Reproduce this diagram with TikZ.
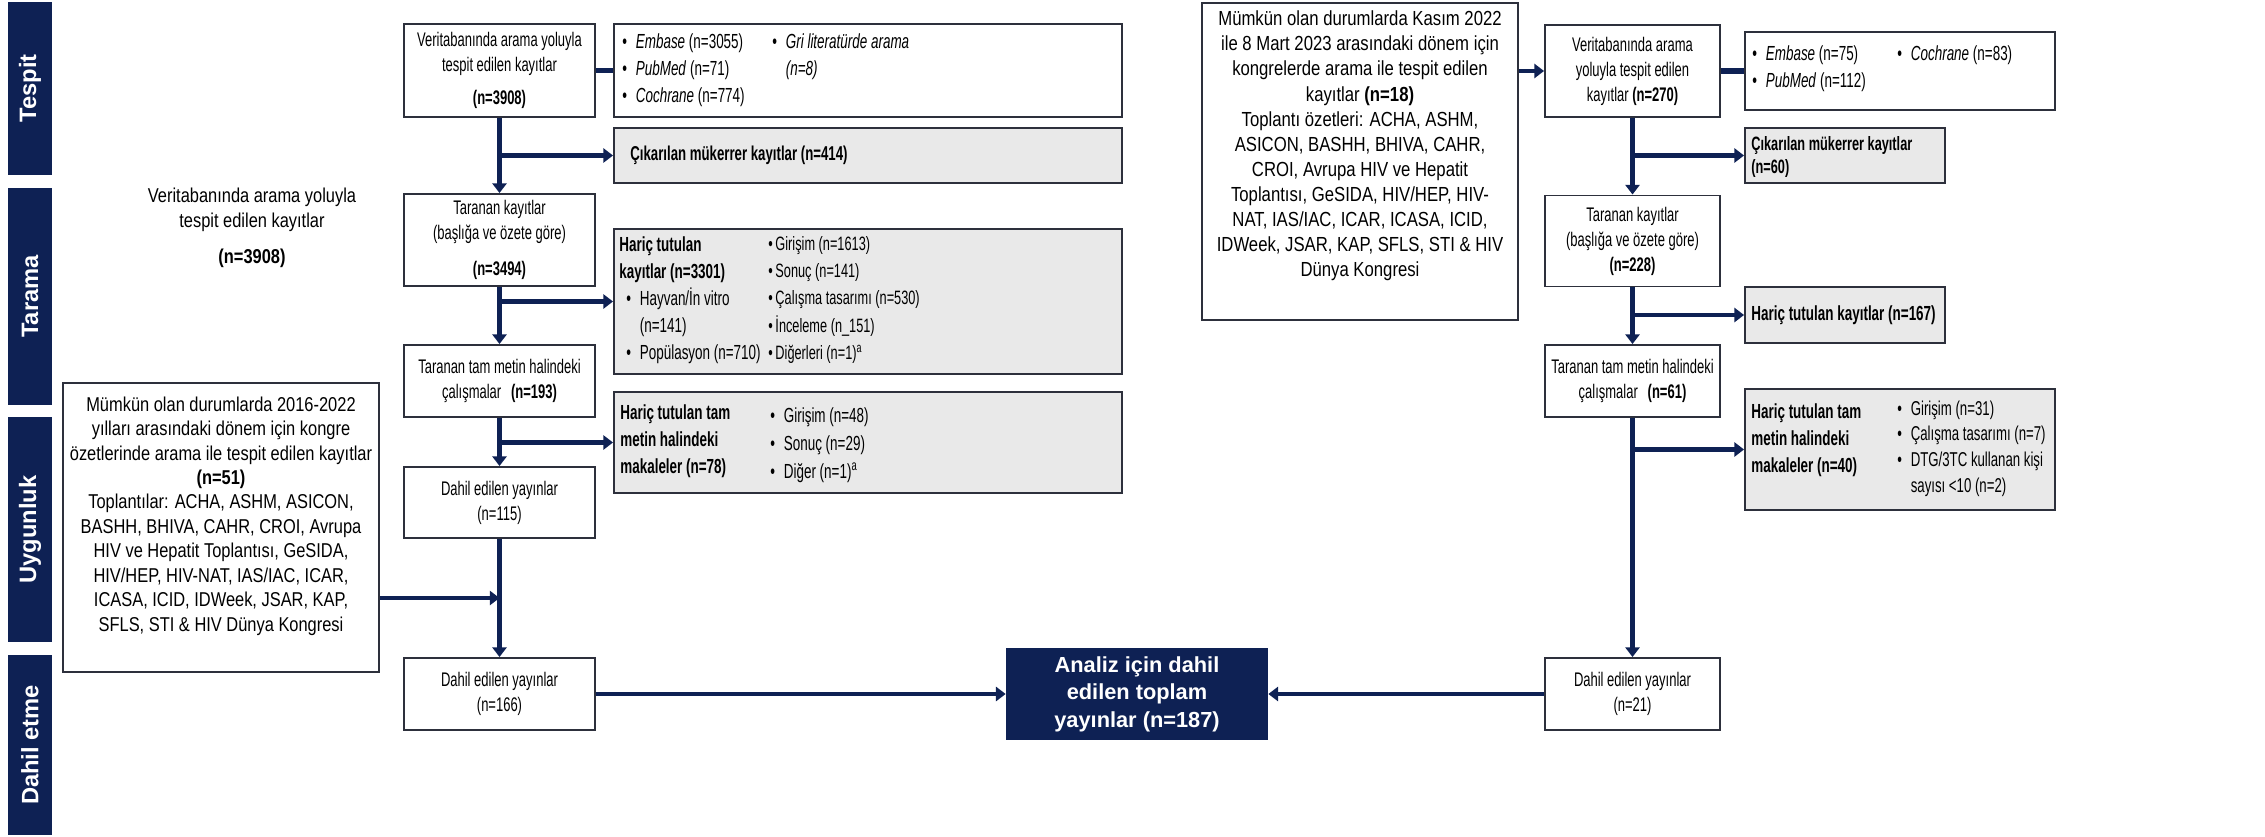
\documentclass[tikz,border=0pt]{standalone}
\usepackage{fontspec}
\setmainfont{Liberation Sans}[FakeStretch=0.66]
\newfontfamily\congfont{Liberation Sans}[FakeStretch=0.82]
\newfontfamily\widefont{Liberation Sans}
\usetikzlibrary{arrows.meta}

\definecolor{navy}{RGB}{14,33,84}
\definecolor{boxline}{RGB}{45,48,60}
\definecolor{boxgrey}{RGB}{233,233,233}
\newcommand{\bul}{\textbullet\hspace{5pt}}
\newcommand{\tbul}{\textbullet\hspace{1.5pt}}

\begin{document}
\begin{tikzpicture}[x=0.2mm, y=-0.2mm,
    phase/.style={rectangle, fill=navy, text=white, minimum height=8.8mm, rotate=90, font=\widefont\fontsize{13.5}{15}\selectfont\bfseries},
    stage/.style={rectangle, draw=boxline, line width=1.1pt, fill=white, align=center, inner sep=1pt, font=\fontsize{11.2}{14.2}\selectfont},
    greybox/.style={rectangle, draw=boxline, line width=1.1pt, fill=boxgrey},
    listbox/.style={rectangle, draw=boxline, line width=1.1pt, fill=white},
    congbox/.style={rectangle, draw=boxline, line width=1.1pt, fill=white},
    congtxt/.style={align=center, inner sep=0pt, font=\congfont\fontsize{11.4}{13.9}\selectfont},
    itemtxt/.style={anchor=west, align=left, inner sep=0pt, font=\fontsize{11.6}{15.4}\selectfont},
    totalbox/.style={rectangle, fill=navy, text=white, align=center, font=\widefont\fontsize{12.4}{15.6}\selectfont\bfseries},
    flow/.style={draw=navy, line width=2.4pt, -{Triangle[length=5.5pt,width=8pt]}},
    link/.style={draw=navy, line width=3pt}
]
\useasboundingbox (0,0) rectangle (2265,837);

% Phase bars on the left
\node[phase, minimum width=34.6mm] (ptespit) at (30,88.5) {Tespit};
\node[phase, minimum width=43.4mm] (ptarama) at (30,296.5) {Tarama};
\node[phase, minimum width=45mm] (puygun) at (30,529.5) {Uygunluk};
\node[phase, minimum width=36mm] (pdahil) at (30,745) {Dahil etme};

% Free text
\node[congtxt] (dbtxt) at (252,228) {Veritabanında arama yoluyla\\tespit edilen kayıtlar\\[7pt]\textbf{(n=3908)}};

% Congress abstracts 2016-2022
\node[congbox, minimum width=63.2mm, minimum height=57.8mm] (cong1) at (221,527.5) {};
\node[congtxt] (cong1txt) at (221,516) {Mümkün olan durumlarda 2016-2022\\yılları arasındaki dönem için kongre\\özetlerinde arama ile tespit edilen kayıtlar\\\textbf{(n=51)}\\Toplantılar: ACHA, ASHM, ASICON,\\BASHH, BHIVA, CAHR, CROI, Avrupa\\HIV ve Hepatit Toplantısı, GeSIDA,\\HIV/HEP, HIV-NAT, IAS/IAC, ICAR,\\ICASA, ICID, IDWeek, JSAR, KAP,\\SFLS, STI \& HIV Dünya Kongresi};

% Left flow
\node[stage, minimum width=38.2mm, minimum height=18.6mm] (a1) at (499.5,70.5) {Veritabanında arama yoluyla\\tespit edilen kayıtlar\\[5pt]\textbf{(n=3908)}};
\node[stage, minimum width=38.2mm, minimum height=18.4mm] (scr1) at (499.5,240) {Taranan kayıtlar\\(başlığa ve özete göre)\\[6pt]\textbf{(n=3494)}};
\node[stage, minimum width=38.2mm, minimum height=14.4mm] (full1) at (499.5,381) {Taranan tam metin halindeki\\çalışmalar\enspace\textbf{(n=193)}};
\node[stage, minimum width=38.2mm, minimum height=14.2mm] (inc1) at (499.5,502.5) {Dahil edilen yayınlar\\(n=115)};
\node[stage, minimum width=38.2mm, minimum height=14.4mm] (fin1) at (499.5,694) {Dahil edilen yayınlar\\(n=166)};

% Left side boxes
\node[listbox, minimum width=101.6mm, minimum height=18.6mm] (src1) at (868,70.5) {};
\node[itemtxt] (src1a) at (622,70) {\bul\textit{Embase} (n=3055)\\\bul\textit{PubMed} (n=71)\\\bul\textit{Cochrane} (n=774)};
\node[itemtxt] (src1b) at (772,57) {\bul\textit{Gri literatürde arama}\\\phantom{\bul}\textit{(n=8)}};

\node[greybox, minimum width=101.6mm, minimum height=11mm] (dup1) at (868,155.5) {};
\node[itemtxt, font=\fontsize{11.4}{15}\selectfont] (dup1txt) at (630,155.5) {\textbf{Çıkarılan mükerrer kayıtlar (n=414)}};

\node[greybox, minimum width=101.6mm, minimum height=29mm] (exc1) at (868,301.5) {};
\node[itemtxt] (exc1a) at (619,300) {\textbf{Hariç tutulan}\\\textbf{kayıtlar (n=3301)}\\\hspace*{4pt}\bul Hayvan/İn vitro\\\hspace*{4pt}\phantom{\bul}(n=141)\\\hspace*{4pt}\bul Popülasyon (n=710)};
\node[itemtxt, font=\fontsize{11}{15.4}\selectfont] (exc1b) at (768,300) {\tbul Girişim (n=1613)\\\tbul Sonuç (n=141)\\\tbul Çalışma tasarımı (n=530)\\\tbul İnceleme (n\_151)\\\tbul Diğerleri (n=1)\textsuperscript{a}};

\node[greybox, minimum width=101.6mm, minimum height=20.2mm] (fexc1) at (868,442.5) {};
\node[itemtxt] (fexc1a) at (620,441) {\textbf{Hariç tutulan tam}\\\textbf{metin halindeki}\\\textbf{makaleler (n=78)}};
\node[itemtxt, font=\fontsize{11.6}{16}\selectfont] (fexc1b) at (770,445) {\bul Girişim (n=48)\\\bul Sonuç (n=29)\\\bul Diğer (n=1)\textsuperscript{a}};

% Total
\node[totalbox, minimum width=52.4mm, minimum height=18.4mm] (total) at (1137,694) {Analiz için dahil\\edilen toplam\\yayınlar (n=187)};

% Congress abstracts Nov 2022 - Mar 2023
\node[congbox, minimum width=63.2mm, minimum height=63.4mm] (cong2) at (1360,161.5) {};
\node[congtxt, font=\congfont\fontsize{11.6}{14.3}\selectfont] (cong2txt) at (1360,146) {Mümkün olan durumlarda Kasım 2022\\ile 8 Mart 2023 arasındaki dönem için\\kongrelerde arama ile tespit edilen\\kayıtlar \textbf{(n=18)}\\Toplantı özetleri: ACHA, ASHM,\\ASICON, BASHH, BHIVA, CAHR,\\CROI, Avrupa HIV ve Hepatit\\Toplantısı, GeSIDA, HIV/HEP, HIV-\\NAT, IAS/IAC, ICAR, ICASA, ICID,\\IDWeek, JSAR, KAP, SFLS, STI \& HIV\\Dünya Kongresi};

% Right flow
\node[stage, minimum width=35mm, minimum height=18.4mm] (a2) at (1632.5,71) {Veritabanında arama\\yoluyla tespit edilen\\kayıtlar \textbf{(n=270)}};
\node[stage, minimum width=35mm, minimum height=18.2mm] (scr2) at (1632.5,241) {Taranan kayıtlar\\(başlığa ve özete göre)\\\textbf{(n=228)}};
\node[stage, minimum width=35mm, minimum height=14.4mm] (full2) at (1632.5,381) {Taranan tam metin halindeki\\çalışmalar\enspace\textbf{(n=61)}};
\node[stage, minimum width=35mm, minimum height=14.4mm] (fin2) at (1632.5,694) {Dahil edilen yayınlar\\(n=21)};

% Right side boxes
\node[listbox, minimum width=62mm, minimum height=15.6mm] (src2) at (1900,71) {};
\node[itemtxt] (src2a) at (1752,69) {\bul\textit{Embase} (n=75)\\\bul\textit{PubMed} (n=112)};
\node[itemtxt] (src2b) at (1897,55) {\bul\textit{Cochrane} (n=83)};

\node[greybox, minimum width=40mm, minimum height=11mm] (dup2) at (1845,155.5) {};
\node[itemtxt, font=\fontsize{11}{13}\selectfont] (dup2txt) at (1751,157) {\textbf{Çıkarılan mükerrer kayıtlar}\\\textbf{(n=60)}};

\node[greybox, minimum width=40mm, minimum height=11.2mm] (exc2) at (1845,315) {};
\node[itemtxt, font=\fontsize{11.6}{15}\selectfont] (exc2txt) at (1751,315) {\textbf{Hariç tutulan kayıtlar (n=167)}};

\node[greybox, minimum width=62mm, minimum height=24.2mm] (fexc2) at (1900,449.5) {};
\node[itemtxt] (fexc2a) at (1751,440) {\textbf{Hariç tutulan tam}\\\textbf{metin halindeki}\\\textbf{makaleler (n=40)}};
\node[itemtxt, font=\fontsize{11.4}{14.6}\selectfont] (fexc2b) at (1897,448.5) {\bul Girişim (n=31)\\\bul Çalışma tasarımı (n=7)\\\bul DTG/3TC kullanan kişi\\\phantom{\bul}sayısı <10 (n=2)};

% Connectors - left
\coordinate (join1) at (499.5,598);
\draw[link] (a1) -- (src1);
\draw[flow] (a1) -- (scr1);
\draw[flow] (a1.south |- dup1.west) -- (dup1.west);
\draw[flow] (scr1) -- (full1);
\draw[flow] (scr1.south |- exc1.west) -- (exc1.west);
\draw[flow] (full1) -- (inc1);
\draw[flow] (full1.south |- fexc1.west) -- (fexc1.west);
\draw[flow] (inc1) -- (fin1);
\draw[flow] (cong1.east |- join1) -- (join1);
\draw[flow] (fin1) -- (total);

% Connectors - right
\draw[flow] (cong2.east |- a2.west) -- (a2.west);
\draw[link] (a2) -- (src2);
\draw[flow] (a2) -- (scr2);
\draw[flow] (a2.south |- dup2.west) -- (dup2.west);
\draw[flow] (scr2) -- (full2);
\draw[flow] (scr2.south |- exc2.west) -- (exc2.west);
\draw[flow] (full2) -- (fin2);
\draw[flow] (full2.south |- fexc2.west) -- (fexc2.west);
\draw[flow] (fin2) -- (total);

\end{tikzpicture}
\end{document}
